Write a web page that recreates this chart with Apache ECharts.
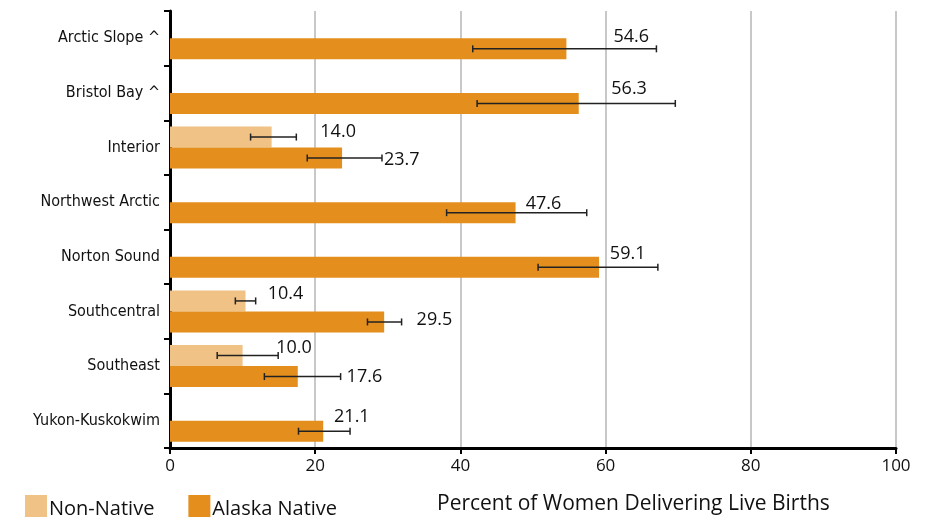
<!DOCTYPE html>
<html>
<head>
<meta charset="utf-8">
<script src="https://cdn.jsdelivr.net/npm/echarts@6/dist/echarts.min.js"></script>
<style>
  html, body { margin: 0; padding: 0; background: #fff; }
  #chart { width: 925px; height: 517px; }
</style>
</head>
<body>
<div id="chart"></div>
<script>
// Regions, top to bottom
const categories = ['Arctic Slope ^', 'Bristol Bay ^', 'Interior', 'Northwest Arctic', 'Norton Sound', 'Southcentral', 'Southeast', 'Yukon-Kuskokwim'];

// Non-Native: value and 95% CI
const nonNative = [null, null, 14.0, null, null, 10.4, 10.0, null];
const nonNativeLow = [null, null, 11.1, null, null, 9.0, 6.5, null];
const nonNativeHigh = [null, null, 17.4, null, null, 11.8, 14.9, null];

// Alaska Native: value and 95% CI
const alaskaNative = [54.6, 56.3, 23.7, 47.6, 59.1, 29.5, 17.6, 21.1];
const alaskaNativeLow = [41.7, 42.3, 18.9, 38.1, 50.7, 27.2, 13.0, 17.7];
const alaskaNativeHigh = [67.0, 69.6, 29.2, 57.4, 67.2, 31.9, 23.5, 24.8];

// label nudges (px) relative to the upper end of the error bar
const nonNativeLabelOffset = [null, null, [24, -5], null, null, [12, -7], [-2, -8], null];
const nativeLabelOffset = [[-43, -12], [-64, -15], [2, 2], [-61, -9], [-48, -13], [15, -2], [6, 0], [-16, -14]];

const CAT_GAP = 0.23;
const labelFont = '"Open Sans", "DejaVu Sans", sans-serif';
const condFont = '"Liberation Sans Narrow", "DejaVu Sans Condensed", "Open Sans", sans-serif';

function errorData(vals, lows, highs) {
  const out = [];
  vals.forEach((v, i) => {
    if (v != null) out.push([i, lows[i], highs[i], v]);
  });
  return out;
}

// draws whisker + cap ends + value text for one bar
function errorBar(sign, offsets) {
  return function (params, api) {
    const cat = api.value(0);
    const lo = api.coord([api.value(1), cat]);
    const hi = api.coord([api.value(2), cat]);
    const band = api.size([0, 1])[1];
    const barW = band * (1 - CAT_GAP) / 2;
    const y = lo[1] + sign * barW / 2;
    const off = offsets[cat] || [4, 0];
    const stroke = { stroke: '#222', lineWidth: 1.5 };
    return {
      type: 'group',
      children: [
        { type: 'line', shape: { x1: lo[0], y1: y, x2: hi[0], y2: y }, style: stroke },
        { type: 'line', shape: { x1: lo[0], y1: y - 3.5, x2: lo[0], y2: y + 3.5 }, style: stroke },
        { type: 'line', shape: { x1: hi[0], y1: y - 3.5, x2: hi[0], y2: y + 3.5 }, style: stroke },
        {
          type: 'text',
          style: {
            text: api.value(3).toFixed(1),
            x: hi[0] + off[0],
            y: y + off[1],
            fill: '#111',
            font: '18px ' + labelFont,
            textAlign: 'left',
            textVerticalAlign: 'middle'
          }
        }
      ]
    };
  };
}

const chart = echarts.init(document.getElementById('chart'));

const option = {
  animation: false,
  title: {
    text: 'Percent of Women Delivering Live Births',
    left: 432,
    top: 489,
    textStyle: { fontFamily: labelFont, fontSize: 21, fontWeight: 'normal', color: '#111' }
  },
  legend: {
    left: 20,
    top: 490,
    itemWidth: 22,
    itemHeight: 28,
    itemGap: 34,
    icon: 'rect',
    data: ['Non-Native', 'Alaska Native'],
    textStyle: { fontFamily: labelFont, fontSize: 20, color: '#111', padding: [0, 0, 0, -3] }
  },
  grid: { left: 170, right: 29, top: 11, bottom: 69 },
  xAxis: {
    type: 'value',
    min: 0,
    max: 100,
    interval: 20,
    axisLine: { show: true, lineStyle: { color: '#000', width: 3 } },
    axisTick: { show: true, length: 6, lineStyle: { color: '#000', width: 2 } },
    axisLabel: { fontFamily: labelFont, fontSize: 17, color: '#111', margin: 10 },
    splitLine: { show: true, lineStyle: { color: '#c8c8c8', width: 2 } }
  },
  yAxis: {
    type: 'category',
    inverse: true,
    data: categories,
    axisLine: { show: true, lineStyle: { color: '#000', width: 3 } },
    axisTick: { show: true, length: 6, interval: 0, lineStyle: { color: '#000', width: 2 } },
    axisLabel: { fontFamily: condFont, fontSize: 16, color: '#111', margin: 10, interval: 0, padding: [5, 0, 0, 0] }
  },
  series: [
    {
      name: 'Non-Native',
      type: 'bar',
      data: nonNative,
      barGap: '0%',
      barCategoryGap: (CAT_GAP * 100) + '%',
      itemStyle: { color: '#f0c285' }
    },
    {
      name: 'Alaska Native',
      type: 'bar',
      data: alaskaNative,
      barGap: '0%',
      barCategoryGap: (CAT_GAP * 100) + '%',
      itemStyle: { color: '#e48f1d' }
    },
    {
      type: 'custom',
      renderItem: errorBar(-1, nonNativeLabelOffset),
      data: errorData(nonNative, nonNativeLow, nonNativeHigh),
      encode: { x: [1, 2], y: 0 },
      z: 5
    },
    {
      type: 'custom',
      renderItem: errorBar(1, nativeLabelOffset),
      data: errorData(alaskaNative, alaskaNativeLow, alaskaNativeHigh),
      encode: { x: [1, 2], y: 0 },
      z: 5
    }
  ]
};

chart.setOption(option);

window.addEventListener('resize', () => {
  chart.resize();
});
</script>
</body>
</html>
